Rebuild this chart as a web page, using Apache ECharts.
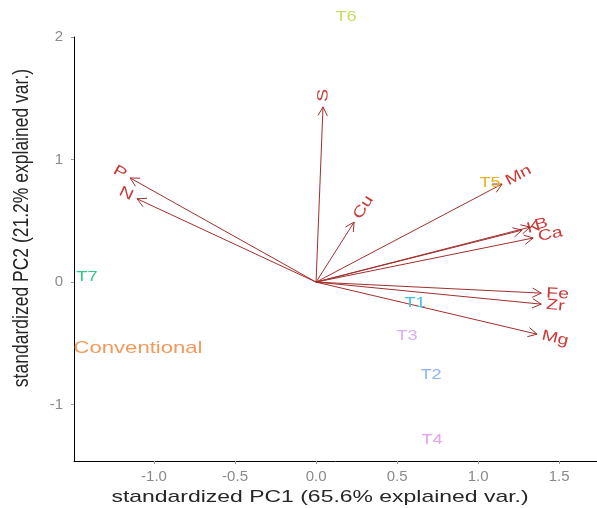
<!DOCTYPE html>
<html><head><meta charset="utf-8">
<script src="https://cdn.jsdelivr.net/npm/echarts@6/dist/echarts.min.js"></script>
<style>html,body{margin:0;padding:0;background:#fff}#c{width:597px;height:508px}</style>
</head><body><div id="c"></div>
<script>
// loadings (arrows)
const varNames = ['S','Cu','Mn','K','B','Ca','Fe','Zr','Mg','P','N'];
const varX = [0.043, 0.235, 1.148, 1.272, 1.321, 1.34, 1.39, 1.39, 1.364, -1.148, -1.105];
const varY = [1.43, 0.49, 0.80, 0.424, 0.449, 0.36, -0.09, -0.18, -0.425, 0.85, 0.68];
// scores (text labels)
const scoreNames = ['T6','T5','T1','T3','T2','T4','T7','Conventional'];
const scoreX = [0.185, 1.074, 0.611, 0.562, 0.71, 0.716, -1.414, -1.099];
const scoreY = [2.16, 0.81, -0.17, -0.44, -0.76, -1.29, 0.04, -0.54];
const scoreColors = ['#C9DC63','#E6B422','#3EC6DF','#D7AEF2','#8DB7EE','#E7A0E9','#2ECC8C','#F29A5B'];
// ticks
const xTicks = [-1, -0.5, 0, 0.5, 1, 1.5];
const yTicks = [-1, 0, 1, 2];
const xTitle = 'standardized PC1 (65.6% explained var.)';
const yTitle = 'standardized PC2 (21.2% explained var.)';

const ARROW = '#A0302E';
const VLABEL = '#C93A38';
const FONT = '"Liberation Sans", Arial, sans-serif';
const SX = 1.3;

const chart = echarts.init(document.getElementById('c'));
chart.setOption({
  animation: false,
  backgroundColor: '#fff',
  grid: { left: 74, right: 0, top: 37, bottom: 47 },
  xAxis: {
    type: 'value', min: -1.494, max: 1.734,
    axisLine: { show: true, onZero: false, lineStyle: { color: '#000', width: 1 } },
    axisTick: { show: true, length: 3, customValues: xTicks, lineStyle: { color: '#999' } },
    axisLabel: { customValues: xTicks, margin: 8, color: '#8a8a8a', fontSize: 15, fontFamily: FONT,
      formatter: v => v.toFixed(1) },
    splitLine: { show: false }
  },
  yAxis: {
    type: 'value', min: -1.46, max: 2,
    axisLine: { show: true, onZero: false, lineStyle: { color: '#000', width: 1 } },
    axisTick: { show: true, length: 3, customValues: yTicks, lineStyle: { color: '#999' } },
    axisLabel: { customValues: yTicks, margin: 11, color: '#8a8a8a', fontSize: 15, fontFamily: FONT,
      formatter: v => String(v) },
    splitLine: { show: false }
  },
  graphic: [
    { type: 'text', x: 320, y: 497, scaleX: 1.35,
      style: { text: xTitle, font: '17px ' + FONT, fill: '#262626', align: 'center', verticalAlign: 'middle' } },
    { type: 'text', x: 22, y: 228, rotation: Math.PI / 2, scaleX: 1.03, scaleY: 1.25,
      style: { text: yTitle, font: '17px ' + FONT, fill: '#262626', align: 'center', verticalAlign: 'middle' } }
  ],
  series: [
    {
      type: 'custom',
      clip: false,
      data: varNames.map((n, i) => [varX[i], varY[i], i]),
      encode: { x: 0, y: 1 },
      renderItem: function (params, api) {
        const x = api.value(0), y = api.value(1), i = api.value(2);
        const o = api.coord([0, 0]), p = api.coord([x, y]);
        const dx = p[0] - o[0], dy = p[1] - o[1];
        const len = Math.hypot(dx, dy), ux = dx / len, uy = dy / len;
        const ah = 10, a = Math.PI / 6.5;
        const bx = -ux, by = -uy, c = Math.cos(a), s = Math.sin(a);
        const h1 = [p[0] + ah * (bx * c - by * s), p[1] + ah * (bx * s + by * c)];
        const h2 = [p[0] + ah * (bx * c + by * s), p[1] + ah * (-bx * s + by * c)];
        let rot = Math.atan2(-dy, dx), align = 'left';
        if (dx < 0) { rot += Math.PI; align = 'right'; }
        const gap = 5;
        return {
          type: 'group',
          children: [
            { type: 'line', shape: { x1: o[0], y1: o[1], x2: p[0], y2: p[1] }, style: { stroke: ARROW, lineWidth: 1 } },
            { type: 'polyline', shape: { points: [h1, p, h2] }, style: { stroke: ARROW, lineWidth: 1, fill: null } },
            { type: 'text', x: p[0] + ux * gap, y: p[1] + uy * gap, rotation: rot, scaleX: SX,
              style: { text: varNames[i], fill: VLABEL, font: '15px ' + FONT, align: align, verticalAlign: 'middle' } }
          ]
        };
      }
    },
    {
      type: 'custom',
      clip: false,
      data: scoreNames.map((n, i) => [scoreX[i], scoreY[i], i]),
      encode: { x: 0, y: 1 },
      renderItem: function (params, api) {
        const i = api.value(2);
        const p = api.coord([api.value(0), api.value(1)]);
        const name = scoreNames[i];
        return {
          type: 'text', x: p[0], y: p[1], scaleX: SX,
          style: { text: name, fill: scoreColors[i], font: (name.length > 3 ? 17 : 14) + 'px ' + FONT,
            align: 'center', verticalAlign: 'middle' }
        };
      }
    }
  ]
});
</script></body></html>
